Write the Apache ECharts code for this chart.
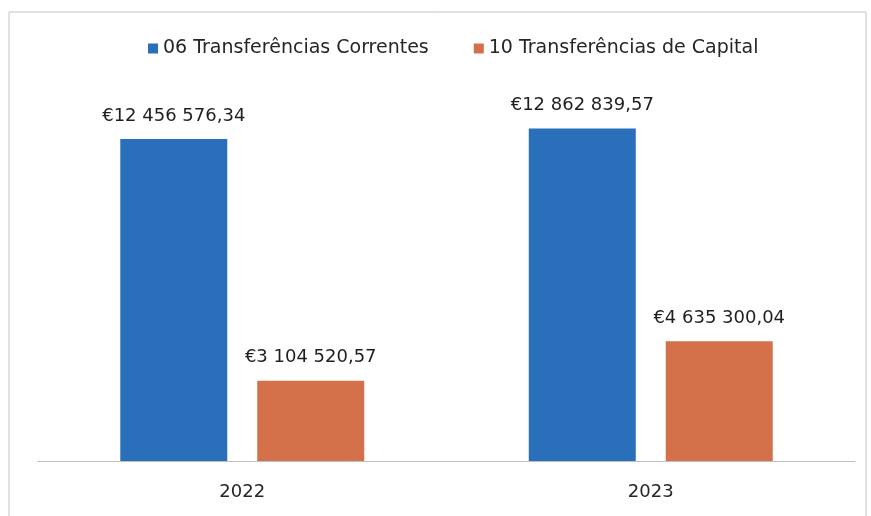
<!DOCTYPE html>
<html>
<head>
<meta charset="utf-8">
<script src="https://cdn.jsdelivr.net/npm/echarts@6/dist/echarts.min.js"></script>
<style>
  html, body { margin: 0; padding: 0; background: #fff; }
  #chart { width: 871px; height: 516px; }
</style>
</head>
<body>
<div id="chart"></div>
<script>
var categories = ['2022', '2023']
var seriesNames = ['06 Transferências Correntes', '10 Transferências de Capital']
var correntes = [12456576.34, 12862839.57]
var capital = [3104520.57, 4635300.04]

var fmtEuro = function (v) {
  var parts = v.toFixed(2).split('.')
  var intPart = parts[0].replace(/\B(?=(\d{3})+(?!\d))/g, ' ')
  return '€' + intPart + ',' + parts[1]
}

var chartDom = document.getElementById('chart')
var myChart = echarts.init(chartDom)
var font = 'DejaVu Sans'
var option = {
  backgroundColor: '#fff',
  animation: false,
  textStyle: { fontFamily: font },
  graphic: [
    {
      type: 'rect',
      shape: { x: 9, y: 12, width: 857, height: 520 },
      style: { fill: 'none', stroke: '#c4c4c4', lineWidth: 1 },
      silent: true,
    },
  ],
  legend: {
    left: 143,
    top: 34,
    itemWidth: 10,
    itemHeight: 10,
    itemGap: 45,
    icon: 'rect',
    textStyle: { fontFamily: font, fontSize: 19, color: '#262626' },
    data: seriesNames,
  },
  grid: { left: 38, right: 16, top: 99, bottom: 55 },
  xAxis: {
    type: 'category',
    data: categories,
    axisLine: { lineStyle: { color: '#bfbfbf', width: 1 } },
    axisTick: { show: false },
    axisLabel: { fontFamily: font, fontSize: 18, color: '#262626', margin: 22 },
  },
  yAxis: {
    type: 'value',
    min: 0,
    max: 14000000,
    show: false,
    splitLine: { show: false },
  },
  series: [
    {
      name: seriesNames[0],
      type: 'bar',
      data: correntes,
      barWidth: 107,
      barGap: '28%',
      itemStyle: { color: '#2a6fba' },
      label: {
        show: true,
        position: 'top',
        distance: 14,
        fontFamily: font,
        fontSize: 18,
        color: '#1f1f1f',
        formatter: function (p) { return fmtEuro(p.value) },
      },
    },
    {
      name: seriesNames[1],
      type: 'bar',
      data: capital,
      barWidth: 107,
      itemStyle: { color: '#d5714a' },
      label: {
        show: true,
        position: 'top',
        distance: 14,
        fontFamily: font,
        fontSize: 18,
        color: '#1f1f1f',
        formatter: function (p) { return fmtEuro(p.value) },
      },
    },
  ],
}

option && myChart.setOption(option)
</script>
</body>
</html>
